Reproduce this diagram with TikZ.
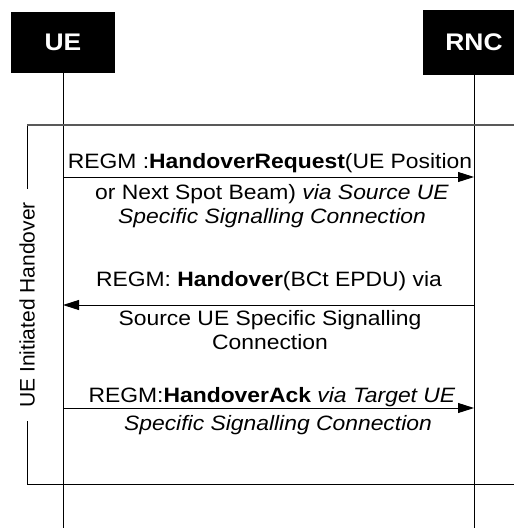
\documentclass[tikz,border=0pt]{standalone}
\usepackage{fontspec}
\setmainfont{Liberation Sans}[FakeStretch=1.1]
\newfontfamily\sidefont{Liberation Sans}
\usepackage{tikz}
\usetikzlibrary{arrows.meta,positioning,calc}
\definecolor{frameGray}{gray}{0.35}
\tikzset{
  actor/.style={rectangle, fill=black, text=white, font=\fontsize{24}{26}\selectfont\bfseries, inner sep=0pt},
  life/.style={line width=0.9pt, draw=black},
  msgarrow/.style={-{Triangle[length=16pt,width=10pt]}, line width=0.9pt, draw=black},
  msg/.style={align=center, inner sep=0pt, font=\fontsize{20.8}{24}\selectfont},
  frametop/.style={line width=1.6pt, draw=frameGray},
  frameline/.style={line width=0.9pt, draw=black}
}
\begin{document}
\begin{tikzpicture}[x=1pt,y=-1pt]
  \useasboundingbox (0,0) rectangle (514,528);
  % entities and lifelines
  \node[actor, minimum width=104pt, minimum height=61pt] (ue) at (63,42.5) {UE};
  \node[actor, minimum width=102pt, minimum height=65pt] (rnc) at (474,42.5) {RNC};
  \coordinate (ueEnd) at (63,528);
  \coordinate (rncEnd) at (474,528);
  \draw[life] (ue.south) -- (ueEnd);
  \draw[life] (rnc.south) -- (rncEnd);
  % phase frame
  \coordinate (fTL) at (27,125);
  \coordinate (fTR) at (520,125);
  \coordinate (fBL) at (27,484);
  \coordinate (fBR) at (520,484);
  \draw[frameline] (fTL) -- (fBL) -- (fBR);
  \draw[frametop] (fTL) -- (fTR);
  \node[rotate=90, fill=white, inner xsep=13pt, inner ysep=2pt, font=\sidefont\fontsize{21}{24}\selectfont] (phase) at (27,305) {UE Initiated Handover};
  % messages
  \coordinate (m1a) at (63,177);  \coordinate (m1b) at (474,177);
  \coordinate (m2a) at (474,305); \coordinate (m2b) at (63,305);
  \coordinate (m3a) at (63,408);  \coordinate (m3b) at (474,408);
  \draw[msgarrow] (m1a) -- (m1b);
  \draw[msgarrow] (m2a) -- (m2b);
  \draw[msgarrow] (m3a) -- (m3b);
  \node[msg] (t1a) at (270,163) {REGM :\textbf{HandoverRequest}(UE Position};
  \node[msg] (t1b) at (272,206) {or Next Spot Beam) \textit{via Source UE}\\\textit{Specific Signalling Connection}};
  \node[msg] (t2a) at (269,281) {REGM: \textbf{Handover}(BCt EPDU) via};
  \node[msg] (t2b) at (270,330) {Source UE Specific Signalling\\Connection};
  \node[msg] (t3a) at (272,397) {REGM:\textbf{HandoverAck} \textit{via Target UE}};
  \node[msg] (t3b) at (278,425) {\textit{Specific Signalling Connection}};
\end{tikzpicture}
\end{document}
